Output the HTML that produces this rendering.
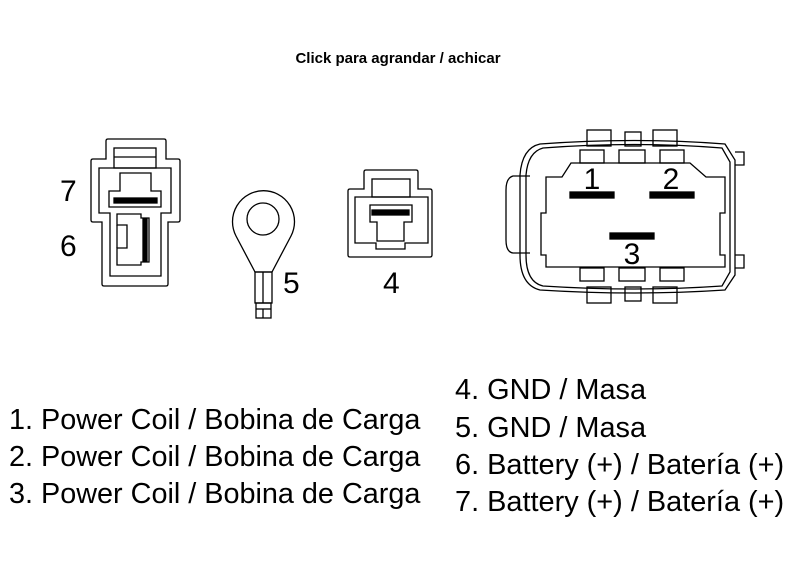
<!DOCTYPE html>
<html><head><style>
body{margin:0;background:#fff;width:800px;height:567px;overflow:hidden;font-family:"Liberation Sans",sans-serif;}
svg{position:absolute;left:0;top:0}
</style></head><body>
<svg width="800" height="567" viewBox="0 0 800 567" fill="none" stroke="#000" stroke-width="1.3">
<text x="398" y="63" text-anchor="middle" font-size="15" font-weight="bold" fill="#000" stroke="none">Click para agrandar / achicar</text>
<!-- 6/7 connector -->
<path d="M108 139 H164 Q166 139 166 141 V159 H178 Q180 159 180 161 V220 Q180 222 178 222 H168 V284 Q168 286 166 286 H104 Q102 286 102 284 V222 H93 Q91 222 91 220 V161 Q91 159 93 159 H106 V141 Q106 139 108 139 Z"/>
<rect x="114" y="148" width="42" height="20"/>
<line x1="114" y1="157" x2="156" y2="157"/>
<path d="M99 168 H171 V213 H161 V276 H110 V213 H99 Z"/>
<path d="M120 173 H151 V191 H161 V207 H109 V191 H120 Z"/>
<rect x="114" y="198" width="43" height="5" fill="#000"/>
<path d="M117 214 H141 V218 H149 V262 H141 V265 H117 V248 H127 V225 H117 Z"/>
<path d="M117 225 V248"/>
<rect x="143" y="219" width="4" height="42" fill="#000"/>
<text x="60" y="201" font-size="30" fill="#000" stroke="none">7</text>
<text x="60" y="256" font-size="30" fill="#000" stroke="none">6</text>
<!-- ring terminal 5 -->
<path d="M255 272 L236 236 A31 31 0 1 1 291 236 L272 272 Z"/>
<circle cx="263" cy="219" r="16"/>
<rect x="255" y="272" width="17" height="31"/>
<line x1="263" y1="272" x2="263" y2="303"/>
<rect x="256" y="303" width="15" height="15"/>
<line x1="256" y1="309" x2="271" y2="309"/><line x1="263" y1="309" x2="263" y2="318"/>
<text x="283" y="293" font-size="30" fill="#000" stroke="none">5</text>
<!-- connector 4 -->
<path d="M366 170 H416 Q418 170 418 172 V189 H430 Q432 189 432 191 V255 Q432 257 430 257 H350 Q348 257 348 255 V191 Q348 189 350 189 H364 V172 Q364 170 366 170 Z"/>
<rect x="372" y="179" width="38" height="18"/>
<path d="M355 197 H428 V243 H405 V249 H376 V243 H355 Z"/>
<path d="M370 205 H412 V222 H404 V241 H377 V222 H370 Z"/>
<rect x="372" y="210" width="37" height="5" fill="#000"/>
<text x="383" y="293" font-size="30" fill="#000" stroke="none">4</text>
<!-- big connector -->
<rect x="587" y="130" width="24" height="16"/><rect x="625" y="132" width="16" height="14"/><rect x="653" y="130" width="24" height="16"/>
<rect x="587" y="287" width="24" height="16"/><rect x="625" y="287" width="16" height="14"/><rect x="653" y="287" width="24" height="16"/>
<path d="M540 144 Q635 137 725 144 L735 160 V275 L725 290 Q635 296 540 290 Q520 285 520 255 V175 Q522 148 540 144 Z"/>
<path d="M543 148 Q635 141 722 148 L730 162 V272 L722 286 Q635 292 543 286 Q526 282 526 255 V175 Q528 152 543 148 Z"/>
<path d="M530 176 L513 176 Q506 178 506 190 V240 Q506 252 513 253 L530 253"/>
<path d="M735 152 H744 V165 H735 M735 255 H744 V268 H735"/>
<path d="M571 163 H690 L706 177 H725 V213 H720 V255 H725 V267 H546 V255 H541 V213 H546 V177 H562 Z"/>
<rect x="580" y="150" width="24" height="13"/><rect x="619" y="150" width="26" height="13"/><rect x="660" y="150" width="24" height="13"/>
<rect x="580" y="268" width="24" height="13"/><rect x="619" y="268" width="26" height="13"/><rect x="660" y="268" width="24" height="13"/>
<rect x="570" y="192" width="44" height="6" fill="#000"/>
<rect x="650" y="192" width="44" height="6" fill="#000"/>
<rect x="610" y="233" width="44" height="6" fill="#000"/>
<g font-size="30" fill="#000" stroke="none" text-anchor="middle">
<text x="592" y="189">1</text><text x="671" y="189">2</text><text x="632" y="264">3</text></g>
<!-- legend -->
<g font-size="28.8" fill="#000" stroke="none">
<text x="9" y="429">1. Power Coil / Bobina de Carga</text>
<text x="9" y="466">2. Power Coil / Bobina de Carga</text>
<text x="9" y="503">3. Power Coil / Bobina de Carga</text>
</g>
<g font-size="28.9" fill="#000" stroke="none">
<text x="455" y="399">4. GND / Masa</text>
<text x="455" y="437">5. GND / Masa</text>
<text x="455" y="474">6. Battery (+) / Batería (+)</text>
<text x="455" y="511">7. Battery (+) / Batería (+)</text>
</g>
</svg>
</body></html>
